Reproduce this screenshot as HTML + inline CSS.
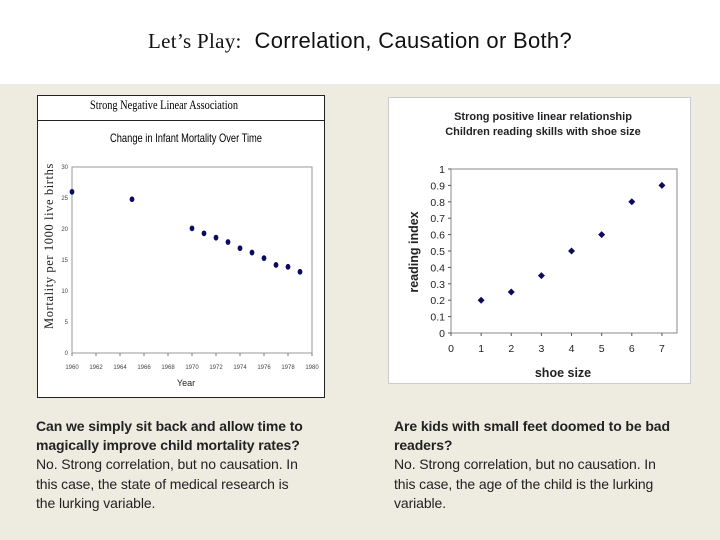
<!DOCTYPE html>
<html><head><meta charset="utf-8"><style>
body{margin:0;width:720px;height:540px;overflow:hidden;background:#eeebe1;font-family:"Liberation Sans",sans-serif}
.band{position:absolute;left:0;top:0;width:720px;height:84px;background:#fff}
.title{position:absolute;left:0;top:28px;width:720px;text-align:center;font-size:22px;color:#111;white-space:nowrap;letter-spacing:0.3px}
.title .a{font-family:"Liberation Serif",serif;font-size:21px}
.cap{position:absolute;top:417px;font-size:14px;line-height:19.2px;color:#222;white-space:nowrap;letter-spacing:-0.1px}
.cap b{font-weight:bold}
svg{position:absolute;left:0;top:0}
</style></head><body>
<div class="band"></div>
<div class="title"><span class="a">Let’s Play:</span>&nbsp; Correlation, Causation or Both?</div>
<svg id="c" width="720" height="540"></svg>
<div class="cap" style="left:36px"><b>Can we simply sit back and allow time to<br>magically improve child mortality rates?</b><br>No. Strong correlation, but no causation. In<br>this case, the state of medical research is<br>the lurking variable.</div>
<div class="cap" style="left:394px"><b>Are kids with small feet doomed to be bad<br>readers?</b><br>No. Strong correlation, but no causation. In<br>this case, the age of the child is the lurking<br>variable.</div>
<script>
const years=[1960,1965,1970,1971,1972,1973,1974,1975,1976,1977,1978,1979];
const mortality=[26,24.8,20.1,19.3,18.6,17.9,16.9,16.2,15.3,14.2,13.9,13.1];
const yearTicks=[1960,1962,1964,1966,1968,1970,1972,1974,1976,1978,1980];
const mortTicks=[0,5,10,15,20,25,30];
const shoe=[1,2,3,4,5,6,7];
const reading=[0.2,0.25,0.35,0.5,0.6,0.8,0.9];
const shoeTicks=[0,1,2,3,4,5,6,7];
const readTicks=[0,0.1,0.2,0.3,0.4,0.5,0.6,0.7,0.8,0.9,1];
const NS='http://www.w3.org/2000/svg';
const svg=document.getElementById('c');
function mk(t,a,txt){const e=document.createElementNS(NS,t);for(const k in a)e.setAttribute(k,a[k]);if(txt!==undefined)e.textContent=txt;svg.appendChild(e);return e;}
// left chart
let e=mk('rect',{x:37.5,y:95.5,width:287,height:302,fill:'#fff',stroke:'#222','stroke-width':1});

mk('line',{x1:37.5,y1:120.5,x2:324.5,y2:120.5,stroke:'#222'});
e=mk('text',{x:90,y:109,'font-family':'Liberation Serif','font-size':13,textLength:148,lengthAdjust:'spacingAndGlyphs'},'Strong Negative Linear Association');

e=mk('text',{x:110,y:142,'font-family':'Liberation Sans','font-size':12,textLength:152,lengthAdjust:'spacingAndGlyphs'},'Change in Infant Mortality Over Time');

const L={x0:72,x1:312,y0:353,y1:167};
const lx=v=>L.x0+(v-1960)/20*(L.x1-L.x0), ly=v=>L.y0-v/30*(L.y0-L.y1);
mk('rect',{x:L.x0,y:L.y1,width:L.x1-L.x0,height:L.y0-L.y1,fill:'none',stroke:'#999'});
mortTicks.forEach(t=>{e=mk('text',{x:L.x0-4,y:ly(t)+2,'font-size':6,'text-anchor':'end',fill:'#444'},t);});
yearTicks.forEach(t=>{mk('line',{x1:lx(t),y1:L.y0,x2:lx(t),y2:L.y0+3,stroke:'#777'});e=mk('text',{x:lx(t),y:L.y0+16,'font-size':6,'text-anchor':'middle',fill:'#444'},t);});
e=mk('text',{x:186,y:386,'font-size':9,'text-anchor':'middle',fill:'#222'},'Year');
e=mk('text',{x:0,y:0,'font-family':'Liberation Serif','font-size':12.5,'text-anchor':'middle',fill:'#222',transform:'translate(53,246) rotate(-90)','letter-spacing':'0.6'},'Mortality per 1000 live births');
years.forEach((y,i)=>{e=mk('ellipse',{cx:lx(y),cy:ly(mortality[i]),rx:2.4,ry:2.9,fill:'#0c0c5e'});});
// right chart
e=mk('rect',{x:388.5,y:97.5,width:302,height:286,fill:'#fff',stroke:'#ccc'});
e=mk('text',{x:543,y:120,'font-size':11,'font-weight':'bold','text-anchor':'middle',fill:'#222'},'Strong positive linear relationship');
e=mk('text',{x:543,y:135,'font-size':11,'font-weight':'bold','text-anchor':'middle',fill:'#222'},'Children reading skills with shoe size');
const R={x0:451,x1:677,y0:333,y1:169};
const rx=v=>R.x0+v/7.5*(R.x1-R.x0), ry=v=>R.y0-v*(R.y0-R.y1);
mk('rect',{x:R.x0,y:R.y1,width:R.x1-R.x0,height:R.y0-R.y1,fill:'none',stroke:'#888'});
readTicks.forEach(t=>{mk('line',{x1:R.x0-3,y1:ry(t),x2:R.x0,y2:ry(t),stroke:'#555'});e=mk('text',{x:R.x0-6,y:ry(t)+4,'font-size':10.5,'text-anchor':'end',fill:'#222'},t);});
shoeTicks.forEach(t=>{mk('line',{x1:rx(t),y1:R.y0,x2:rx(t),y2:R.y0+3,stroke:'#555'});e=mk('text',{x:rx(t),y:R.y0+19,'font-size':10.5,'text-anchor':'middle',fill:'#222'},t);});
e=mk('text',{x:563,y:377,'font-size':12.5,'font-weight':'bold','text-anchor':'middle',fill:'#222'},'shoe size');
e=mk('text',{x:0,y:0,'font-size':12.5,'font-weight':'bold','text-anchor':'middle',fill:'#222',transform:'translate(418,252) rotate(-90)'},'reading index');
shoe.forEach((s,i)=>{const x=rx(s),y=ry(reading[i]);e=mk('polygon',{points:`${x},${y-3.5} ${x+3.5},${y} ${x},${y+3.5} ${x-3.5},${y}`,fill:'#0c0c5e'});});
</script>
</body></html>
